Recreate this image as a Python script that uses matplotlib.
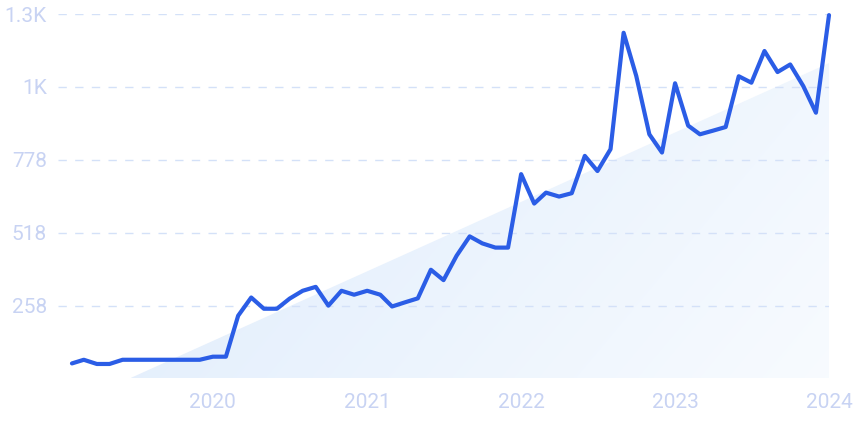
import numpy as np
import pandas as pd
import matplotlib
matplotlib.use("Agg")
import matplotlib.pyplot as plt
from matplotlib.patches import Polygon
import matplotlib.dates as mdates

# monthly values, Feb 2019 .. Jan 2024
months = pd.date_range("2019-02-01", "2024-01-01", freq="MS")
values = [52, 65, 50, 50, 65, 65, 65, 65, 65, 65,
          65, 76, 76, 222, 287, 247, 247, 283, 311, 325,
          258, 311, 297, 311, 297, 255, 270, 284, 386, 349,
          436, 505, 480, 465, 465, 727, 622, 661, 647, 659,
          792, 738, 816, 1231, 1077, 869, 804, 1051, 900, 869,
          882, 895, 1076, 1053, 1166, 1091, 1118, 1041, 946, 1294]

# trend wedge behind the line (start date, end value)
trend_start = pd.Timestamp("2019-06-20")
trend_end_value = 1123

y_ticks = [258, 518, 778, 1038, 1298]
y_labels = ["258", "518", "778", "1K", "1.3K"]
x_years = [2020, 2021, 2022, 2023, 2024]

label_color = "#c8d3f3"
line_color = "#2b5de6"

fig = plt.figure(figsize=(8.6, 4.3), dpi=100)
ax = fig.add_axes([58 / 860, 1 - 378 / 430, (829 - 58) / 860, (378 - 14) / 430])

x = mdates.date2num(months)
x_left = x[0] - (72 - 58) / 12.85 * 30.4
ax.set_xlim(x_left, x[-1])
ax.set_ylim(0, 1298)

# gradient fill under the trend wedge
ts = mdates.date2num(trend_start)
poly = Polygon([(ts, 0), (x[-1], trend_end_value), (x[-1], 0)],
               closed=True, facecolor="none", edgecolor="none")
ax.add_patch(poly)
gx, gy = np.meshgrid(np.linspace(0, 1, 200), np.linspace(0, 1, 100))
t = np.clip(0.8 * gx - 0.3 * gy + 0.1, 0, 1)
c0 = np.array([0.89, 0.935, 0.99])
c1 = np.array([0.98, 0.99, 1.0])
img = c0[None, None, :] * (1 - t[..., None]) + c1[None, None, :] * t[..., None]
im = ax.imshow(img, extent=[ts, x[-1], 0, trend_end_value], origin="lower",
               aspect="auto", zorder=1, interpolation="bilinear")
im.set_clip_path(poly)

for yv in y_ticks:
    ax.axhline(yv, color="#d4e1f8", lw=1.0, dashes=(6, 6), zorder=2)

ax.plot(x, values, color=line_color, lw=3.0, zorder=3,
        solid_joinstyle="round", solid_capstyle="round", clip_on=False)

ax.set_yticks(y_ticks)
ax.set_yticklabels(y_labels)
ax.set_xticks([mdates.date2num(pd.Timestamp(f"{y}-01-01")) for y in x_years])
ax.set_xticklabels([str(y) for y in x_years])
ax.tick_params(axis="both", length=0, labelsize=15, labelcolor=label_color)
ax.tick_params(axis="y", pad=8)
ax.tick_params(axis="x", pad=11)
for lab in ax.get_xticklabels() + ax.get_yticklabels():
    lab.set_family("Roboto")

for s in ax.spines.values():
    s.set_visible(False)

fig.savefig("out.png", dpi=100)
